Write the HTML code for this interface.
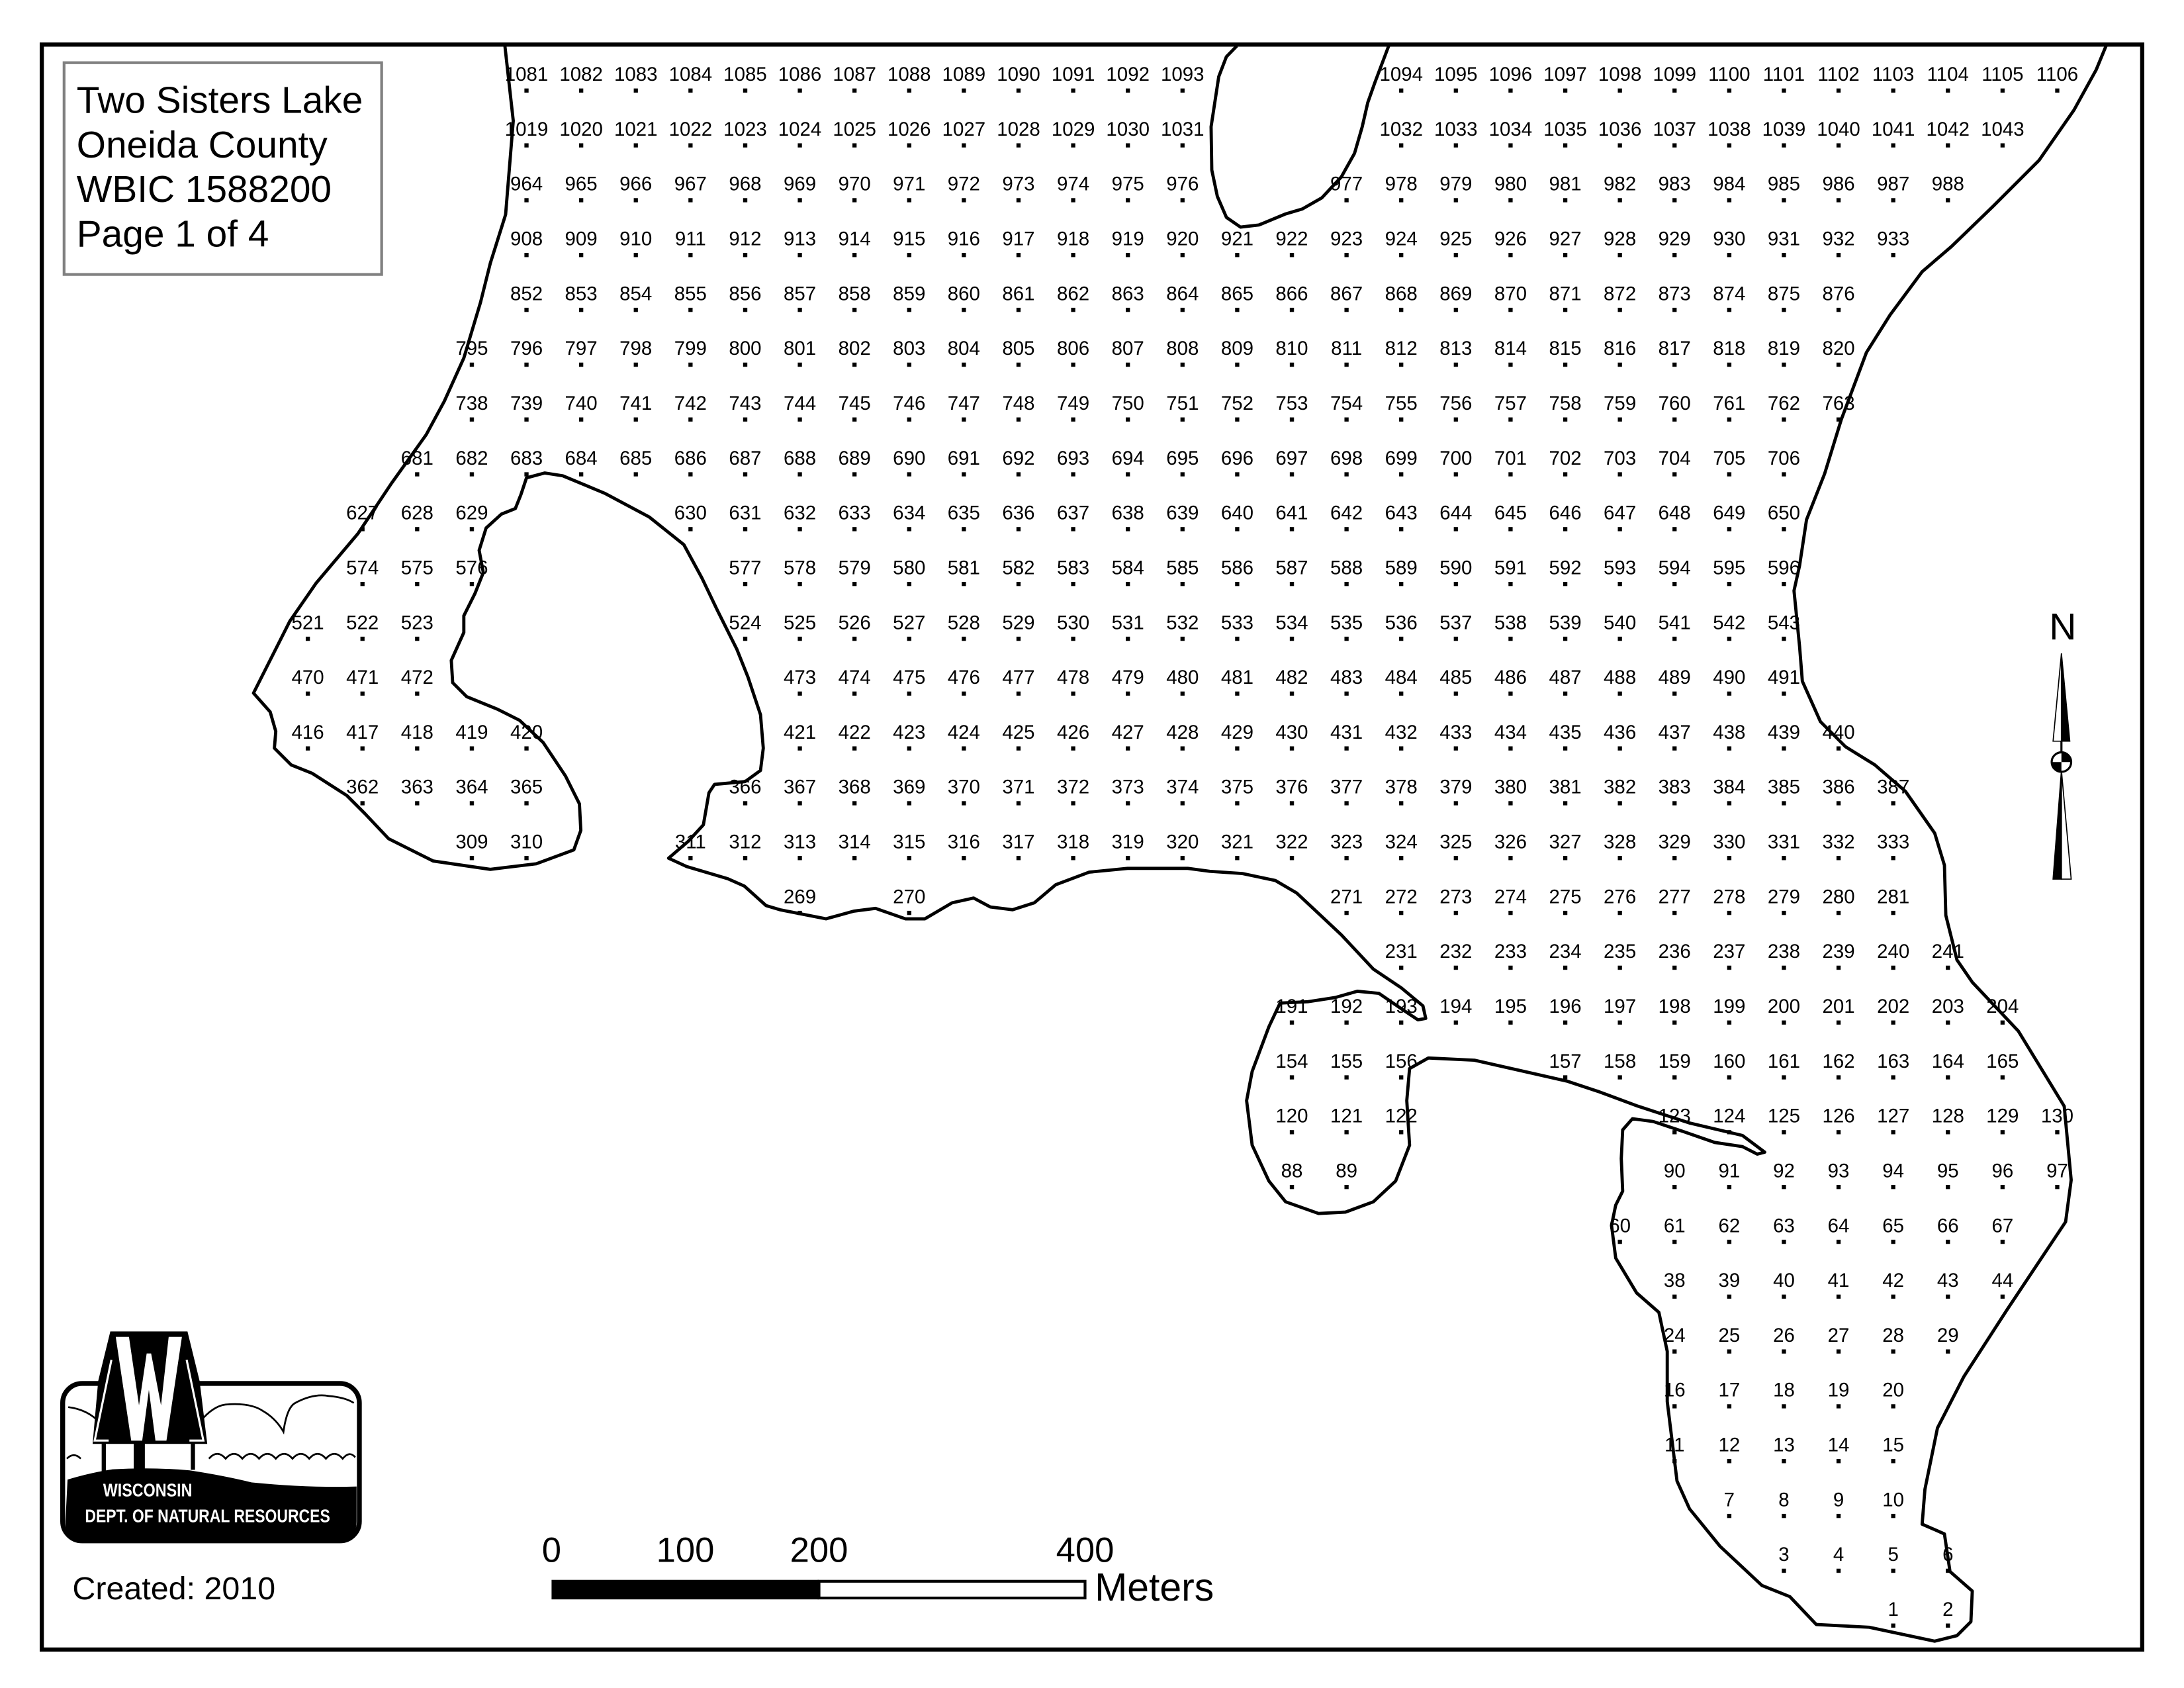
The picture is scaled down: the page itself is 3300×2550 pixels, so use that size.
<!DOCTYPE html>
<html><head><meta charset="utf-8"><style>
html,body{margin:0;padding:0;background:#fff}
svg{display:block}
.l text{font-family:"Liberation Sans",sans-serif;font-size:14px;text-anchor:middle;fill:#000}
</style></head><body>
<svg width="3300" height="2550" viewBox="0 0 1568 1211.6" preserveAspectRatio="none" xmlns="http://www.w3.org/2000/svg">
<defs><pattern id="d" patternUnits="userSpaceOnUse" x="376.5" y="63.5" width="39.25" height="39.35"><rect x="0" y="0" width="3" height="3" fill="#000"/></pattern></defs>
<rect x="0" y="0" width="1568" height="1211.6" fill="#fff"/>
<rect x="30" y="32" width="1508" height="1152" fill="none" stroke="#000" stroke-width="3"/>
<!-- shoreline -->
<path d="M362.5,33 L368.5,86.7 L363,154 L352,189 L345,217 L333,257 L319,288 L306,312 L281,347 L257,383 L227,418.5 L208,446 L182,497.5 L194,511 L198,525 L197,537 L209,549 L224,555 L249,571 L262,584 L279,602 L311,618 L352,624 L385,620 L412,610 L417,596 L416,577 L406,557 L390,533 L373,517 L357,509 L335,500 L325,490 L324,474 L333,454 L333,442 L341,426 L347,411 L344,395 L349,379 L360,369 L370,365 L374,355 L378,343 L391,339.5 L404,341.5 L434,354 L466,371 L491,391 L504,415 L515,438 L529,466 L537,486 L546,513 L548,537 L546,553 L535,561 L513,563 L509,569 L505,592 L494,604 L480,616 L493,622 L522.5,630.7 L534.4,636 L550,650 L560,653 L593,659.5 L613,654 L628.6,652 L650,659.5 L664,659.5 L683.6,648 L699,644.6 L711,651 L727,653 L742.6,648 L758,635 L782,626 L809.6,623.3 L852.8,623.3 L868.5,625.4 L892,627 L915.6,632 L931,641 L947,656 L963,671 L986,695.6 L1006,709 L1021.6,722 L1023.6,731 L1018,732 L1006,724 L990,713 L974.5,711.5 L958.6,716 L939,719 L919,720 L911,737 L899,769 L895,790 L899,822 L911,847.7 L923,862.6 L946.6,871 L966,870 L986,862.6 L1002,847.7 L1012,822 L1010,790 L1012,767 L1025.5,759.4 L1058.6,761 L1125,776 L1148,783.6 L1176,794 L1212.8,806 L1251,815 L1267,827 L1261.6,828.4 L1251,823 L1231,820 L1208,812 L1187,805 L1172,803 L1165,811 L1164,831.6 L1165,855 L1160,865 L1157,879.6 L1160,903 L1175,928 L1191,942 L1197,970 L1197,1006 L1204,1063 L1213,1083 L1235,1110 L1265,1138 L1285,1146 L1304,1166 L1342,1168 L1389,1178 L1405,1174 L1415,1164 L1416,1142 L1400,1128 L1396,1101 L1380,1094 L1382,1069 L1391,1025 L1410,988 L1441,940 L1483,877 L1487,847 L1482,794 L1449,740 L1416,705 L1405,689 L1397,657 L1396,621 L1389,598 L1368,568 L1346,549 L1325,536 L1307,518 L1294,489 L1292,464 L1288,424 L1292,406 L1297,373 L1310,340 L1322,301 L1340,253 L1357,226 L1380,195 L1401,177 L1431,148 L1464,115 L1489,79 L1505,50 L1512,33" fill="none" stroke="#000" stroke-width="2.3" stroke-linejoin="round"/>
<path d="M888,33 L880.5,40.7 L875,55 L869.5,91 L870,122 L874,141 L880.5,156 L890.6,163 L903.8,161.5 L922.6,153.7 L935,150 L949,142 L963,127 L972.5,110 L978,91 L982,73.6 L987,59.5 L997,33" fill="none" stroke="#000" stroke-width="2.3" stroke-linejoin="round"/>
<!-- dots -->
<g fill="url(#d)">
<rect x="376" y="62" width="476" height="6"/><rect x="1004" y="62" width="476" height="6"/>
<rect x="376" y="101.35" width="476" height="6"/><rect x="1004" y="101.35" width="437" height="6"/>
<rect x="376" y="140.7" width="476" height="6"/><rect x="964.75" y="140.7" width="437" height="6"/>
<rect x="376" y="180.05" width="986.25" height="6"/>
<rect x="376" y="219.4" width="947" height="6"/>
<rect x="336.75" y="258.75" width="986.25" height="6"/>
<rect x="336.75" y="298.1" width="986.25" height="6"/>
<rect x="297.5" y="337.45" width="986.25" height="6"/>
<rect x="258.25" y="376.8" width="83.5" height="6"/><rect x="493.75" y="376.8" width="790" height="6"/>
<rect x="258.25" y="416.15" width="83.5" height="6"/><rect x="533" y="416.15" width="750.75" height="6"/>
<rect x="219" y="455.5" width="83.5" height="6"/><rect x="533" y="455.5" width="750.75" height="6"/>
<rect x="219" y="494.85" width="83.5" height="6"/><rect x="572.25" y="494.85" width="711.5" height="6"/>
<rect x="219" y="534.2" width="162" height="6"/><rect x="572.25" y="534.2" width="750.75" height="6"/>
<rect x="258.25" y="573.55" width="122.75" height="6"/><rect x="533" y="573.55" width="829.25" height="6"/>
<rect x="336.75" y="612.9" width="44.25" height="6"/><rect x="493.75" y="612.9" width="868.5" height="6"/>
<rect x="572.25" y="652.25" width="5" height="6"/><rect x="650.75" y="652.25" width="5" height="6"/><rect x="964.75" y="652.25" width="397.5" height="6"/>
<rect x="1004" y="691.6" width="397.5" height="6"/>
<rect x="925.5" y="730.95" width="515.25" height="6"/>
<rect x="925.5" y="770.3" width="83.5" height="6"/><rect x="1121.75" y="770.3" width="319" height="6"/>
<rect x="925.5" y="809.65" width="83.5" height="6"/><rect x="1200.25" y="809.65" width="279.75" height="6"/>
<rect x="925.5" y="849" width="44.25" height="6"/><rect x="1200.25" y="849" width="279.75" height="6"/>
<rect x="1161" y="888.35" width="279.75" height="6"/>
<rect x="1200.25" y="927.7" width="240.5" height="6"/>
<rect x="1200.25" y="967.05" width="201.25" height="6"/>
<rect x="1200.25" y="1006.4" width="162" height="6"/>
<rect x="1200.25" y="1045.75" width="162" height="6"/>
<rect x="1239.5" y="1085.1" width="122.75" height="6"/>
<rect x="1278.75" y="1124.45" width="122.75" height="6"/>
<rect x="1357.25" y="1163.8" width="44.25" height="6"/>
</g>
<g class="l">
<g transform="translate(0,58)"><text x="378">1081</text><text x="417.25">1082</text><text x="456.5">1083</text><text x="495.75">1084</text><text x="535">1085</text><text x="574.25">1086</text><text x="613.5">1087</text><text x="652.75">1088</text><text x="692">1089</text><text x="731.25">1090</text><text x="770.5">1091</text><text x="809.75">1092</text><text x="849">1093</text><text x="1006">1094</text><text x="1045.25">1095</text><text x="1084.5">1096</text><text x="1123.75">1097</text><text x="1163">1098</text><text x="1202.25">1099</text><text x="1241.5">1100</text><text x="1280.75">1101</text><text x="1320">1102</text><text x="1359.25">1103</text><text x="1398.5">1104</text><text x="1437.75">1105</text><text x="1477">1106</text></g>
<g transform="translate(0,97.35)"><text x="378">1019</text><text x="417.25">1020</text><text x="456.5">1021</text><text x="495.75">1022</text><text x="535">1023</text><text x="574.25">1024</text><text x="613.5">1025</text><text x="652.75">1026</text><text x="692">1027</text><text x="731.25">1028</text><text x="770.5">1029</text><text x="809.75">1030</text><text x="849">1031</text><text x="1006">1032</text><text x="1045.25">1033</text><text x="1084.5">1034</text><text x="1123.75">1035</text><text x="1163">1036</text><text x="1202.25">1037</text><text x="1241.5">1038</text><text x="1280.75">1039</text><text x="1320">1040</text><text x="1359.25">1041</text><text x="1398.5">1042</text><text x="1437.75">1043</text></g>
<g transform="translate(0,136.7)"><text x="378">964</text><text x="417.25">965</text><text x="456.5">966</text><text x="495.75">967</text><text x="535">968</text><text x="574.25">969</text><text x="613.5">970</text><text x="652.75">971</text><text x="692">972</text><text x="731.25">973</text><text x="770.5">974</text><text x="809.75">975</text><text x="849">976</text><text x="966.75">977</text><text x="1006">978</text><text x="1045.25">979</text><text x="1084.5">980</text><text x="1123.75">981</text><text x="1163">982</text><text x="1202.25">983</text><text x="1241.5">984</text><text x="1280.75">985</text><text x="1320">986</text><text x="1359.25">987</text><text x="1398.5">988</text></g>
<g transform="translate(0,176.05)"><text x="378">908</text><text x="417.25">909</text><text x="456.5">910</text><text x="495.75">911</text><text x="535">912</text><text x="574.25">913</text><text x="613.5">914</text><text x="652.75">915</text><text x="692">916</text><text x="731.25">917</text><text x="770.5">918</text><text x="809.75">919</text><text x="849">920</text><text x="888.25">921</text><text x="927.5">922</text><text x="966.75">923</text><text x="1006">924</text><text x="1045.25">925</text><text x="1084.5">926</text><text x="1123.75">927</text><text x="1163">928</text><text x="1202.25">929</text><text x="1241.5">930</text><text x="1280.75">931</text><text x="1320">932</text><text x="1359.25">933</text></g>
<g transform="translate(0,215.4)"><text x="378">852</text><text x="417.25">853</text><text x="456.5">854</text><text x="495.75">855</text><text x="535">856</text><text x="574.25">857</text><text x="613.5">858</text><text x="652.75">859</text><text x="692">860</text><text x="731.25">861</text><text x="770.5">862</text><text x="809.75">863</text><text x="849">864</text><text x="888.25">865</text><text x="927.5">866</text><text x="966.75">867</text><text x="1006">868</text><text x="1045.25">869</text><text x="1084.5">870</text><text x="1123.75">871</text><text x="1163">872</text><text x="1202.25">873</text><text x="1241.5">874</text><text x="1280.75">875</text><text x="1320">876</text></g>
<g transform="translate(0,254.75)"><text x="338.75">795</text><text x="378">796</text><text x="417.25">797</text><text x="456.5">798</text><text x="495.75">799</text><text x="535">800</text><text x="574.25">801</text><text x="613.5">802</text><text x="652.75">803</text><text x="692">804</text><text x="731.25">805</text><text x="770.5">806</text><text x="809.75">807</text><text x="849">808</text><text x="888.25">809</text><text x="927.5">810</text><text x="966.75">811</text><text x="1006">812</text><text x="1045.25">813</text><text x="1084.5">814</text><text x="1123.75">815</text><text x="1163">816</text><text x="1202.25">817</text><text x="1241.5">818</text><text x="1280.75">819</text><text x="1320">820</text></g>
<g transform="translate(0,294.1)"><text x="338.75">738</text><text x="378">739</text><text x="417.25">740</text><text x="456.5">741</text><text x="495.75">742</text><text x="535">743</text><text x="574.25">744</text><text x="613.5">745</text><text x="652.75">746</text><text x="692">747</text><text x="731.25">748</text><text x="770.5">749</text><text x="809.75">750</text><text x="849">751</text><text x="888.25">752</text><text x="927.5">753</text><text x="966.75">754</text><text x="1006">755</text><text x="1045.25">756</text><text x="1084.5">757</text><text x="1123.75">758</text><text x="1163">759</text><text x="1202.25">760</text><text x="1241.5">761</text><text x="1280.75">762</text><text x="1320">763</text></g>
<g transform="translate(0,333.45)"><text x="299.5">681</text><text x="338.75">682</text><text x="378">683</text><text x="417.25">684</text><text x="456.5">685</text><text x="495.75">686</text><text x="535">687</text><text x="574.25">688</text><text x="613.5">689</text><text x="652.75">690</text><text x="692">691</text><text x="731.25">692</text><text x="770.5">693</text><text x="809.75">694</text><text x="849">695</text><text x="888.25">696</text><text x="927.5">697</text><text x="966.75">698</text><text x="1006">699</text><text x="1045.25">700</text><text x="1084.5">701</text><text x="1123.75">702</text><text x="1163">703</text><text x="1202.25">704</text><text x="1241.5">705</text><text x="1280.75">706</text></g>
<g transform="translate(0,372.8)"><text x="260.25">627</text><text x="299.5">628</text><text x="338.75">629</text><text x="495.75">630</text><text x="535">631</text><text x="574.25">632</text><text x="613.5">633</text><text x="652.75">634</text><text x="692">635</text><text x="731.25">636</text><text x="770.5">637</text><text x="809.75">638</text><text x="849">639</text><text x="888.25">640</text><text x="927.5">641</text><text x="966.75">642</text><text x="1006">643</text><text x="1045.25">644</text><text x="1084.5">645</text><text x="1123.75">646</text><text x="1163">647</text><text x="1202.25">648</text><text x="1241.5">649</text><text x="1280.75">650</text></g>
<g transform="translate(0,412.15)"><text x="260.25">574</text><text x="299.5">575</text><text x="338.75">576</text><text x="535">577</text><text x="574.25">578</text><text x="613.5">579</text><text x="652.75">580</text><text x="692">581</text><text x="731.25">582</text><text x="770.5">583</text><text x="809.75">584</text><text x="849">585</text><text x="888.25">586</text><text x="927.5">587</text><text x="966.75">588</text><text x="1006">589</text><text x="1045.25">590</text><text x="1084.5">591</text><text x="1123.75">592</text><text x="1163">593</text><text x="1202.25">594</text><text x="1241.5">595</text><text x="1280.75">596</text></g>
<g transform="translate(0,451.5)"><text x="221">521</text><text x="260.25">522</text><text x="299.5">523</text><text x="535">524</text><text x="574.25">525</text><text x="613.5">526</text><text x="652.75">527</text><text x="692">528</text><text x="731.25">529</text><text x="770.5">530</text><text x="809.75">531</text><text x="849">532</text><text x="888.25">533</text><text x="927.5">534</text><text x="966.75">535</text><text x="1006">536</text><text x="1045.25">537</text><text x="1084.5">538</text><text x="1123.75">539</text><text x="1163">540</text><text x="1202.25">541</text><text x="1241.5">542</text><text x="1280.75">543</text></g>
<g transform="translate(0,490.85)"><text x="221">470</text><text x="260.25">471</text><text x="299.5">472</text><text x="574.25">473</text><text x="613.5">474</text><text x="652.75">475</text><text x="692">476</text><text x="731.25">477</text><text x="770.5">478</text><text x="809.75">479</text><text x="849">480</text><text x="888.25">481</text><text x="927.5">482</text><text x="966.75">483</text><text x="1006">484</text><text x="1045.25">485</text><text x="1084.5">486</text><text x="1123.75">487</text><text x="1163">488</text><text x="1202.25">489</text><text x="1241.5">490</text><text x="1280.75">491</text></g>
<g transform="translate(0,530.2)"><text x="221">416</text><text x="260.25">417</text><text x="299.5">418</text><text x="338.75">419</text><text x="378">420</text><text x="574.25">421</text><text x="613.5">422</text><text x="652.75">423</text><text x="692">424</text><text x="731.25">425</text><text x="770.5">426</text><text x="809.75">427</text><text x="849">428</text><text x="888.25">429</text><text x="927.5">430</text><text x="966.75">431</text><text x="1006">432</text><text x="1045.25">433</text><text x="1084.5">434</text><text x="1123.75">435</text><text x="1163">436</text><text x="1202.25">437</text><text x="1241.5">438</text><text x="1280.75">439</text><text x="1320">440</text></g>
<g transform="translate(0,569.55)"><text x="260.25">362</text><text x="299.5">363</text><text x="338.75">364</text><text x="378">365</text><text x="535">366</text><text x="574.25">367</text><text x="613.5">368</text><text x="652.75">369</text><text x="692">370</text><text x="731.25">371</text><text x="770.5">372</text><text x="809.75">373</text><text x="849">374</text><text x="888.25">375</text><text x="927.5">376</text><text x="966.75">377</text><text x="1006">378</text><text x="1045.25">379</text><text x="1084.5">380</text><text x="1123.75">381</text><text x="1163">382</text><text x="1202.25">383</text><text x="1241.5">384</text><text x="1280.75">385</text><text x="1320">386</text><text x="1359.25">387</text></g>
<g transform="translate(0,608.9)"><text x="338.75">309</text><text x="378">310</text><text x="495.75">311</text><text x="535">312</text><text x="574.25">313</text><text x="613.5">314</text><text x="652.75">315</text><text x="692">316</text><text x="731.25">317</text><text x="770.5">318</text><text x="809.75">319</text><text x="849">320</text><text x="888.25">321</text><text x="927.5">322</text><text x="966.75">323</text><text x="1006">324</text><text x="1045.25">325</text><text x="1084.5">326</text><text x="1123.75">327</text><text x="1163">328</text><text x="1202.25">329</text><text x="1241.5">330</text><text x="1280.75">331</text><text x="1320">332</text><text x="1359.25">333</text></g>
<g transform="translate(0,648.25)"><text x="574.25">269</text><text x="652.75">270</text><text x="966.75">271</text><text x="1006">272</text><text x="1045.25">273</text><text x="1084.5">274</text><text x="1123.75">275</text><text x="1163">276</text><text x="1202.25">277</text><text x="1241.5">278</text><text x="1280.75">279</text><text x="1320">280</text><text x="1359.25">281</text></g>
<g transform="translate(0,687.6)"><text x="1006">231</text><text x="1045.25">232</text><text x="1084.5">233</text><text x="1123.75">234</text><text x="1163">235</text><text x="1202.25">236</text><text x="1241.5">237</text><text x="1280.75">238</text><text x="1320">239</text><text x="1359.25">240</text><text x="1398.5">241</text></g>
<g transform="translate(0,726.95)"><text x="927.5">191</text><text x="966.75">192</text><text x="1006">193</text><text x="1045.25">194</text><text x="1084.5">195</text><text x="1123.75">196</text><text x="1163">197</text><text x="1202.25">198</text><text x="1241.5">199</text><text x="1280.75">200</text><text x="1320">201</text><text x="1359.25">202</text><text x="1398.5">203</text><text x="1437.75">204</text></g>
<g transform="translate(0,766.3)"><text x="927.5">154</text><text x="966.75">155</text><text x="1006">156</text><text x="1123.75">157</text><text x="1163">158</text><text x="1202.25">159</text><text x="1241.5">160</text><text x="1280.75">161</text><text x="1320">162</text><text x="1359.25">163</text><text x="1398.5">164</text><text x="1437.75">165</text></g>
<g transform="translate(0,805.65)"><text x="927.5">120</text><text x="966.75">121</text><text x="1006">122</text><text x="1202.25">123</text><text x="1241.5">124</text><text x="1280.75">125</text><text x="1320">126</text><text x="1359.25">127</text><text x="1398.5">128</text><text x="1437.75">129</text><text x="1477">130</text></g>
<g transform="translate(0,845)"><text x="927.5">88</text><text x="966.75">89</text><text x="1202.25">90</text><text x="1241.5">91</text><text x="1280.75">92</text><text x="1320">93</text><text x="1359.25">94</text><text x="1398.5">95</text><text x="1437.75">96</text><text x="1477">97</text></g>
<g transform="translate(0,884.35)"><text x="1163">60</text><text x="1202.25">61</text><text x="1241.5">62</text><text x="1280.75">63</text><text x="1320">64</text><text x="1359.25">65</text><text x="1398.5">66</text><text x="1437.75">67</text></g>
<g transform="translate(0,923.7)"><text x="1202.25">38</text><text x="1241.5">39</text><text x="1280.75">40</text><text x="1320">41</text><text x="1359.25">42</text><text x="1398.5">43</text><text x="1437.75">44</text></g>
<g transform="translate(0,963.05)"><text x="1202.25">24</text><text x="1241.5">25</text><text x="1280.75">26</text><text x="1320">27</text><text x="1359.25">28</text><text x="1398.5">29</text></g>
<g transform="translate(0,1002.4)"><text x="1202.25">16</text><text x="1241.5">17</text><text x="1280.75">18</text><text x="1320">19</text><text x="1359.25">20</text></g>
<g transform="translate(0,1041.75)"><text x="1202.25">11</text><text x="1241.5">12</text><text x="1280.75">13</text><text x="1320">14</text><text x="1359.25">15</text></g>
<g transform="translate(0,1081.1)"><text x="1241.5">7</text><text x="1280.75">8</text><text x="1320">9</text><text x="1359.25">10</text></g>
<g transform="translate(0,1120.45)"><text x="1280.75">3</text><text x="1320">4</text><text x="1359.25">5</text><text x="1398.5">6</text></g>
<g transform="translate(0,1159.8)"><text x="1359.25">1</text><text x="1398.5">2</text></g>
</g>
<!-- title box -->
<rect x="46" y="45" width="228" height="152" fill="#fff" stroke="#808080" stroke-width="2"/>
<g font-family="Liberation Sans, sans-serif" font-size="27" fill="#000">
<text x="55" y="81">Two Sisters Lake</text>
<text x="55" y="113">Oneida County</text>
<text x="55" y="145">WBIC 1588200</text>
<text x="55" y="177">Page 1 of 4</text>
</g>
<!-- north arrow -->
<text x="1481" y="459" font-family="Liberation Sans, sans-serif" font-size="27" text-anchor="middle">N</text>
<path d="M1480,469 L1474,532 L1480,532 Z" fill="#fff" stroke="#000" stroke-width="0.8"/>
<path d="M1480,469 L1486,532 L1480,532 Z" fill="#000" stroke="#000" stroke-width="0.8"/>
<line x1="1480" y1="532" x2="1480" y2="540" stroke="#000" stroke-width="1.5"/>
<path d="M1480,553 L1474,631 L1480,631 Z" fill="#000" stroke="#000" stroke-width="0.8"/>
<path d="M1480,553 L1487,631 L1480,631 Z" fill="#fff" stroke="#000" stroke-width="0.8"/>
<circle cx="1480" cy="547" r="7" fill="#fff" stroke="#000" stroke-width="1.5"/>
<path d="M1480,540 A7,7 0 0 1 1487,547 L1480,547 Z" fill="#000"/>
<path d="M1480,554 A7,7 0 0 1 1473,547 L1480,547 Z" fill="#000"/>
<!-- scale bar -->
<g font-family="Liberation Sans, sans-serif" font-size="25" text-anchor="middle">
<text x="396" y="1121">0</text><text x="492" y="1121">100</text><text x="588" y="1121">200</text><text x="779" y="1121">400</text>
</g>
<rect x="396" y="1134" width="192" height="14" fill="#000"/>
<rect x="588" y="1135" width="191" height="12" fill="#fff" stroke="#000" stroke-width="2"/>
<text x="786" y="1149" font-family="Liberation Sans, sans-serif" font-size="28">Meters</text>
<text x="52" y="1148" font-family="Liberation Sans, sans-serif" font-size="23">Created: 2010</text>
<!-- logo -->
<g>
<rect x="45" y="993" width="213" height="113" rx="14" fill="#fff" stroke="#000" stroke-width="3.5"/>
<path d="M48.5,1062 Q65,1057 80.8,1054.6 Q110,1053 136.2,1055.4 Q160,1059 180.5,1064 Q220,1068 256,1067 L256,1092 Q256,1105 243,1105 L60,1105 Q47,1105 47,1092 Z" fill="#000"/>
<path d="M49,1010 Q65,1012 74,1024" fill="none" stroke="#000" stroke-width="1.3"/>
<path d="M145.7,1018 Q155,1008 164,1008 Q180,1007 188.5,1012.6 Q198,1018 203.5,1027.7 Q206,1010 212,1007 Q225,1000 236,1002 Q248,1003 254,1007" fill="none" stroke="#000" stroke-width="1.3"/>
<path d="M48,1047 Q53,1042 58,1047 M150,1047 Q156,1040 162,1047 Q168,1040 174,1047 Q180,1040 186,1047 Q192,1040 198,1047 Q204,1040 210,1047 Q216,1040 222,1047 Q228,1040 234,1047 Q240,1040 246,1047 Q251,1041 255,1046" fill="none" stroke="#000" stroke-width="1.3"/>
<path d="M79.2,955.7 L134.6,955.7 L143.3,991.2 L148.8,1036.4 L66.5,1036.4 L70.5,991.2 Z" fill="#000"/>
<path d="M80,976 L68,1034 L78,1034" fill="none" stroke="#fff" stroke-width="1.5"/>
<path d="M134,976 L146,1034 L136,1034" fill="none" stroke="#fff" stroke-width="1.5"/>
<path d="M83.1,959.6 L92.6,959.6 L99.8,1008.7 L105.3,971.5 L108.5,971.5 L115.6,1008.7 L121.1,959.6 L130.6,959.6 L119.5,1034.1 L111.6,1034.1 L106.9,997.6 L102.1,1034.1 L94.2,1034.1 Z" fill="#fff"/>
<rect x="73" y="1036" width="3" height="20" fill="#000"/><rect x="96" y="1036" width="8" height="19" fill="#000"/><rect x="137" y="1036" width="3" height="19" fill="#000"/>
<text x="106" y="1074" font-family="Liberation Sans Narrow, Liberation Sans, sans-serif" font-size="13" font-weight="bold" fill="#fff" text-anchor="middle" textLength="64" lengthAdjust="spacingAndGlyphs">WISCONSIN</text>
<text x="149" y="1092.5" font-family="Liberation Sans Narrow, Liberation Sans, sans-serif" font-size="13" font-weight="bold" fill="#fff" text-anchor="middle" textLength="176" lengthAdjust="spacingAndGlyphs">DEPT. OF NATURAL RESOURCES</text>
</g>
</svg>
</body></html>
